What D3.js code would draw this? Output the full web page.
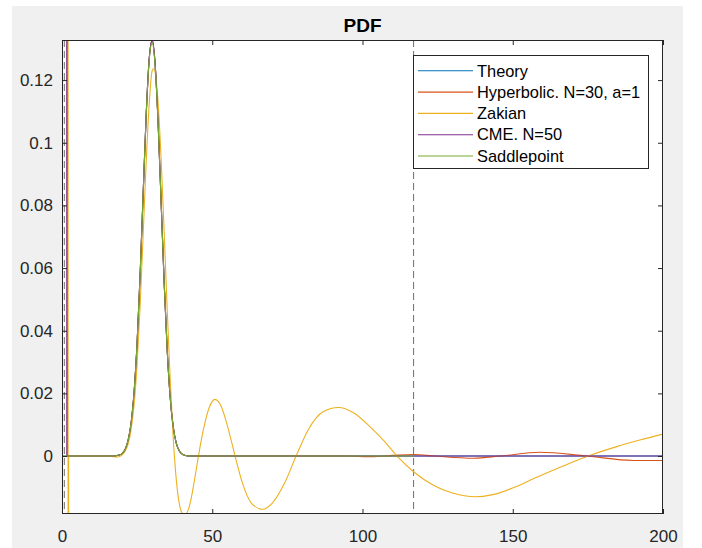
<!DOCTYPE html>
<html>
<head>
<meta charset="utf-8">
<script src="https://cdn.jsdelivr.net/npm/d3@7"></script>
<style>
  body { margin: 0; background: #fff; }
  svg { display: block; font-family: "Liberation Sans", Arial, Helvetica, sans-serif; }
</style>
</head>
<body>
<script>
// ---- data ----
var xTicks = [0, 50, 100, 150, 200];
var yTicks = [0, 0.02, 0.04, 0.06, 0.08, 0.1, 0.12];
var yTickLabels = ["0", "0.02", "0.04", "0.06", "0.08", "0.1", "0.12"];
var seriesNames = ["Theory", "Hyperbolic. N=30, a=1", "Zakian", "CME. N=50", "Saddlepoint"];
var seriesColors = ["#0072BD", "#D95319", "#EDB120", "#7E2F8E", "#77AC30"];
var markerT = [0.77, 117]; // dashed vertical lines

var theoryT = [0.2, 5, 10, 15, 17, 18, 19, 20, 21, 22, 23, 24, 25, 26, 27, 28, 29, 30, 31, 32, 33, 34, 35, 36, 37, 38, 39, 40, 41, 42, 44, 50, 80, 117, 150, 200];
var theoryY = [0, 0, 0, 0, 0.00003, 0.0001, 0.0003, 0.0008, 0.0021, 0.0050, 0.0105, 0.0205, 0.0362, 0.0578, 0.0835, 0.1085, 0.1265, 0.1327, 0.1250, 0.1060, 0.0808, 0.0553, 0.0340, 0.0188, 0.0094, 0.0042, 0.0017, 0.0006, 0.0002, 0.00006, 0, 0, 0, 0, 0, 0];

var hypT = [1.65, 1.8, 5, 10, 15, 17, 18, 19, 20, 21, 22, 23, 24, 25, 26, 27, 28, 29, 30, 31, 32, 33, 34, 35, 36, 37, 38, 39, 40, 41, 42, 44, 50, 80, 95, 103, 110, 117, 124, 137, 145.8, 159, 174.6, 190, 200];
var hypY = [1.0, 0, 0, 0, 0, 0.00003, 0.0001, 0.0003, 0.0008, 0.0021, 0.0050, 0.0105, 0.0205, 0.0362, 0.0578, 0.0835, 0.1085, 0.1265, 0.1327, 0.1250, 0.1060, 0.0808, 0.0553, 0.0340, 0.0188, 0.0094, 0.0042, 0.0017, 0.0006, 0.0002, 0.00006, 0, 0, 0, 0, -0.0002, 0.0002, 0.0005, 0, -0.0007, 0, 0.0012, 0, -0.0014, -0.0014];

var zakT = [2.0, 2.05, 2.2, 5, 10, 15, 17, 18, 19, 20, 21, 22, 23, 24, 25, 26, 27, 28, 29, 30, 30.5, 31, 32, 33, 34, 35, 36, 37, 38, 39, 40, 41, 42, 43, 44, 45.4, 47, 49, 50.9, 53, 55, 57.6, 60, 63, 66.8, 70, 74, 77.9, 82, 87, 92, 97, 102, 107, 111.5, 117, 123.6, 130.2, 137.4, 143, 150, 157, 164, 170, 175.1, 184.6, 192.3, 200];
var zakY = [1.0, -1.0, 0, 0, 0, 0, -0.0002, -0.0003, -0.0002, 0.0004, 0.0015, 0.0038, 0.0085, 0.0165, 0.0295, 0.0480, 0.0705, 0.0935, 0.1120, 0.1230, 0.1236, 0.1225, 0.1125, 0.0945, 0.0715, 0.0470, 0.0245, 0.0060, -0.0072, -0.0150, -0.0182, -0.0187, -0.0172, -0.0135, -0.0082, 0, 0.0082, 0.0155, 0.0181, 0.0158, 0.0098, 0, -0.0085, -0.0150, -0.0170, -0.0150, -0.0088, 0, 0.0085, 0.0142, 0.0155, 0.0138, 0.0098, 0.0050, 0, -0.0050, -0.0093, -0.0119, -0.0130, -0.0124, -0.0102, -0.0072, -0.0043, -0.0019, 0, 0.0030, 0.0051, 0.0070];

var cmeT = [1.45, 1.6, 5, 10, 15, 17, 18, 19, 20, 21, 22, 23, 24, 25, 26, 27, 28, 29, 30, 31, 32, 33, 34, 35, 36, 37, 38, 39, 40, 41, 42, 44, 50, 80, 117, 150, 200];
var cmeY = [1.0, 0, 0, 0, 0, 0.00003, 0.0001, 0.0003, 0.0008, 0.0021, 0.0050, 0.0105, 0.0205, 0.0362, 0.0578, 0.0835, 0.1085, 0.1265, 0.1328, 0.1250, 0.1060, 0.0808, 0.0553, 0.0340, 0.0188, 0.0094, 0.0042, 0.0017, 0.0006, 0.0002, 0.00006, 0, 0, 0, 0, 0, 0];

var saddleT = [0.2, 5, 10, 15, 17, 18, 19, 20, 21, 22, 23, 24, 25, 26, 27, 28, 29, 30, 31, 32, 33, 34, 35, 36, 37, 38, 39, 40, 41, 42, 44, 50, 80, 117];
var saddleY = [0, 0, 0, 0, 0.00003, 0.0001, 0.0003, 0.0008, 0.0021, 0.0050, 0.0105, 0.0205, 0.0362, 0.0578, 0.0835, 0.1085, 0.1262, 0.1318, 0.1245, 0.1058, 0.0808, 0.0553, 0.0340, 0.0188, 0.0094, 0.0042, 0.0017, 0.0006, 0.0002, 0.00006, 0, 0, 0, 0];

var seriesT = [theoryT, hypT, zakT, cmeT, saddleT];
var seriesY = [theoryY, hypY, zakY, cmeY, saddleY];

// ---- layout ----
var svgWidth = 702;
var svgHeight = 548;
var plot = { left: 62, right: 663, top: 40, bottom: 514 };
var ink = "#262626";

var svg = d3.select("body")
  .append("svg")
  .attr("width", svgWidth)
  .attr("height", svgHeight);

// grey figure background
svg.append("rect")
  .attr("x", 12).attr("y", 6)
  .attr("width", 683 - 12).attr("height", svgHeight - 6)
  .attr("fill", "#f0f0f0");

svg.append("rect")
  .attr("x", plot.left).attr("y", plot.top)
  .attr("width", plot.right - plot.left).attr("height", plot.bottom - plot.top)
  .attr("fill", "#fff");

var xScale = d3.scaleLinear().domain([0, 200]).range([plot.left, plot.right]);
var yScale = d3.scaleLinear().domain([-0.0185, 0.1328]).range([plot.bottom, plot.top]);

svg.append("clipPath").attr("id", "clip")
  .append("rect")
  .attr("x", plot.left).attr("y", plot.top)
  .attr("width", plot.right - plot.left).attr("height", plot.bottom - plot.top);

var lines = svg.append("g").attr("clip-path", "url(#clip)");

// dashed markers
lines.selectAll(".marker")
  .data(markerT)
  .enter()
  .append("line")
  .attr("x1", function (d) { return xScale(d); })
  .attr("x2", function (d) { return xScale(d); })
  .attr("y1", plot.top)
  .attr("y2", plot.bottom)
  .attr("stroke", "#6e6e6e")
  .attr("stroke-width", 1)
  .attr("stroke-dasharray", "7,4");

var lineGen = d3.line()
  .x(function (d) { return xScale(d[0]); })
  .y(function (d) { return yScale(d[1]); })
  .curve(d3.curveMonotoneX);

seriesT.forEach(function (ts, i) {
  var pts = ts.map(function (t, k) { return [t, seriesY[i][k]]; });
  lines.append("path")
    .attr("d", lineGen(pts))
    .attr("fill", "none")
    .attr("stroke", seriesColors[i])
    .attr("stroke-width", 1.1);
});

// axes: ticks pointing inward on all four sides
var tickLen = 5;
var bottomAxis = d3.axisBottom(xScale).tickValues(xTicks).tickSizeInner(-tickLen).tickSizeOuter(0).tickPadding(16);
var topAxis = d3.axisTop(xScale).tickValues(xTicks).tickSizeInner(-tickLen).tickSizeOuter(0).tickFormat("");
var leftAxis = d3.axisLeft(yScale).tickValues(yTicks).tickSizeInner(-tickLen).tickSizeOuter(0).tickPadding(9)
  .tickFormat(function (d, i) { return yTickLabels[i]; });
var rightAxis = d3.axisRight(yScale).tickValues(yTicks).tickSizeInner(-tickLen).tickSizeOuter(0).tickFormat("");

function styleAxis(g) {
  g.select(".domain").remove();
  g.selectAll("line").attr("stroke", ink);
  g.selectAll("text").attr("fill", ink).style("font-size", "17px").style("font-family", "'Liberation Sans', Arial, sans-serif");
}

svg.append("g").attr("transform", "translate(0," + plot.bottom + ")").call(bottomAxis).call(styleAxis);
svg.append("g").attr("transform", "translate(0," + plot.top + ")").call(topAxis).call(styleAxis);
svg.append("g").attr("transform", "translate(" + plot.left + ",0)").call(leftAxis).call(styleAxis);
svg.append("g").attr("transform", "translate(" + plot.right + ",0)").call(rightAxis).call(styleAxis);

// frame
svg.append("rect")
  .attr("x", plot.left + 0.5).attr("y", plot.top + 0.5)
  .attr("width", plot.right - plot.left - 1).attr("height", plot.bottom - plot.top - 1)
  .attr("fill", "none")
  .attr("stroke", ink)
  .attr("stroke-width", 1);

// title
svg.append("text")
  .attr("x", (plot.left + plot.right) / 2)
  .attr("y", 32)
  .attr("text-anchor", "middle")
  .style("font-size", "19px")
  .style("font-weight", "bold")
  .attr("fill", "#000")
  .text("PDF");

// legend
var legend = svg.append("g");
legend.append("rect")
  .attr("x", 413.5).attr("y", 55.5)
  .attr("width", 235).attr("height", 113)
  .attr("fill", "#fff")
  .attr("stroke", ink)
  .attr("stroke-width", 1);

var rows = legend.selectAll(".row")
  .data(seriesNames)
  .enter()
  .append("g")
  .attr("transform", function (d, i) { return "translate(0," + (70.8 + i * 21.3) + ")"; });

rows.append("line")
  .attr("x1", 418).attr("x2", 473)
  .attr("stroke", function (d, i) { return seriesColors[i]; })
  .attr("stroke-width", 1.1);

rows.append("text")
  .attr("x", 477)
  .attr("dy", "0.35em")
  .attr("fill", "#000")
  .style("font-size", "16.4px")
  .text(function (d) { return d; });
</script>
</body>
</html>
